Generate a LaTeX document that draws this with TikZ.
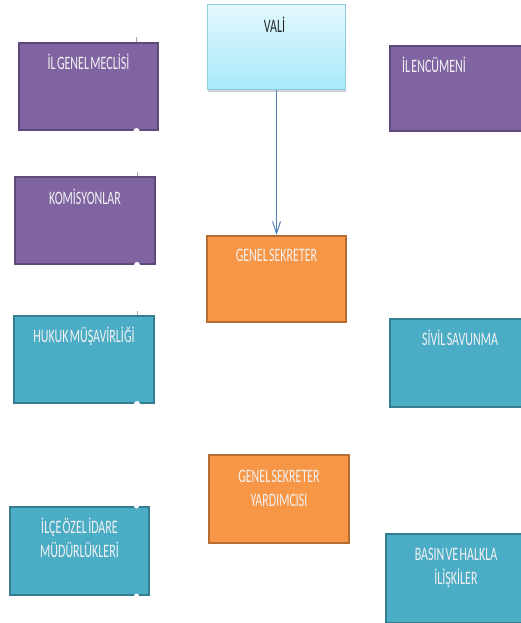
\documentclass[tikz,border=0pt]{standalone}
\usepackage{fontspec}
\setmainfont{Carlito}[FakeStretch=0.63,WordSpace=0.5]
\usetikzlibrary{arrows.meta}
\definecolor{P4}{RGB}{128,100,162}
\definecolor{P4d}{RGB}{94,74,122}
\definecolor{O4}{RGB}{247,150,70}
\definecolor{O4d}{RGB}{182,109,49}
\definecolor{T4}{RGB}{75,172,198}
\definecolor{T4d}{RGB}{53,125,145}
\definecolor{V4t}{RGB}{227,248,253}
\definecolor{V4b}{RGB}{165,233,250}
\definecolor{V4d}{RGB}{140,205,222}
\definecolor{A4}{RGB}{79,129,189}

\begin{document}
\begin{tikzpicture}[x=1pt, y=-1pt,
    box/.style={draw, line width=2pt, minimum width=139pt, minimum height=87pt, inner sep=0pt},
    purplebox/.style={box, fill=P4, draw=P4d},
    orangebox/.style={box, fill=O4, draw=O4d},
    tealbox/.style={box, fill=T4, draw=T4d},
    valibox/.style={box, line width=1pt, draw=V4d, top color=V4t, bottom color=V4b},
    shadowbox/.style={box, draw=none, fill=black, opacity=0.18},
    boxtext/.style={text=white!95!black, font=\fontsize{19}{23.5}\selectfont, align=center,
                    anchor=base, inner sep=0pt},
    bump/.style={fill=white, draw=none},
    tick/.style={draw=gray!70, line width=0.6pt}
  ]
  \useasboundingbox (0,0) rectangle (521,623);

  % boxes
  \node[shadowbox, minimum width=138pt, minimum height=85pt] (valishadow) at (277,49.5) {};
  \node[valibox, minimum width=138pt, minimum height=85pt] (vali) at (276.5,47.5) {};
  \node[purplebox] (meclis) at (88.5,86.5) {};
  \node[purplebox, minimum width=140pt, minimum height=85pt] (encumen) at (460,88.5) {};
  \node[purplebox, minimum width=140pt] (komisyon) at (85,220.5) {};
  \node[orangebox, minimum height=86pt] (sekreter) at (276.5,279) {};
  \node[tealbox, minimum width=140pt] (hukuk) at (84,359.5) {};
  \node[tealbox, minimum width=140pt, minimum height=88pt] (sivil) at (460,363) {};
  \node[orangebox, minimum width=140pt, minimum height=88pt] (yardimci) at (279,499) {};
  \node[tealbox, minimum height=88pt] (ilce) at (79.5,551) {};
  \node[tealbox, minimum width=140pt, minimum height=89pt] (basin) at (456,578.5) {};

  % texts
  \node[boxtext, text=black!85] (valitext) at ([xshift=-2pt, yshift=-28pt]vali.north) {VALİ};
  \node[boxtext] (meclistext) at ([yshift=-28pt]meclis.north) {İL GENEL MECLİSİ};
  \node[boxtext] (encumentext) at ([xshift=-26pt, yshift=-28pt]encumen.north) {İL ENCÜMENİ};
  \node[boxtext] (komisyontext) at ([yshift=-28pt]komisyon.north) {KOMİSYONLAR};
  \node[boxtext] (sekretertext) at ([yshift=-26.5pt]sekreter.north) {GENEL SEKRETER};
  \node[boxtext] (hukuktext) at ([yshift=-27.5pt]hukuk.north) {HUKUK MÜŞAVİRLİĞİ};
  \node[boxtext] (siviltext) at ([yshift=-27.5pt]sivil.north) {SİVİL SAVUNMA};
  \node[boxtext] (yardimcitext) at ([yshift=-52pt]yardimci.north) {GENEL SEKRETER\\YARDIMCISI};
  \node[boxtext] (ilcetext) at ([yshift=-51pt]ilce.north) {İLÇE ÖZEL İDARE\\MÜDÜRLÜKLERİ};
  \node[boxtext] (basintext) at ([yshift=-51pt]basin.north) {BASIN VE HALKLA\\İLİŞKİLER};

  % connector
  \draw[A4, line width=1pt, -{Straight Barb[length=12pt, width=8pt]}] (vali.south) -- (vali.south |- sekreter.north);

  % small leftover marks
  \draw[tick] ([xshift=48pt]meclis.north) -- ++(0,-5);
  \draw[tick] ([xshift=52pt]komisyon.north) -- ++(0,-4);
  \draw[tick] ([xshift=53pt]hukuk.north) -- ++(0,-4);
  \fill[bump] ([xshift=48pt]meclis.south) circle (3pt);
  \fill[bump] ([xshift=52pt]komisyon.south) circle (3pt);
  \fill[bump] ([xshift=53pt]hukuk.south) circle (3pt);
  \fill[bump] ([xshift=57pt]ilce.north) circle (2.5pt);
  \fill[bump] ([xshift=57pt]ilce.south) circle (2.5pt);
\end{tikzpicture}
\end{document}
